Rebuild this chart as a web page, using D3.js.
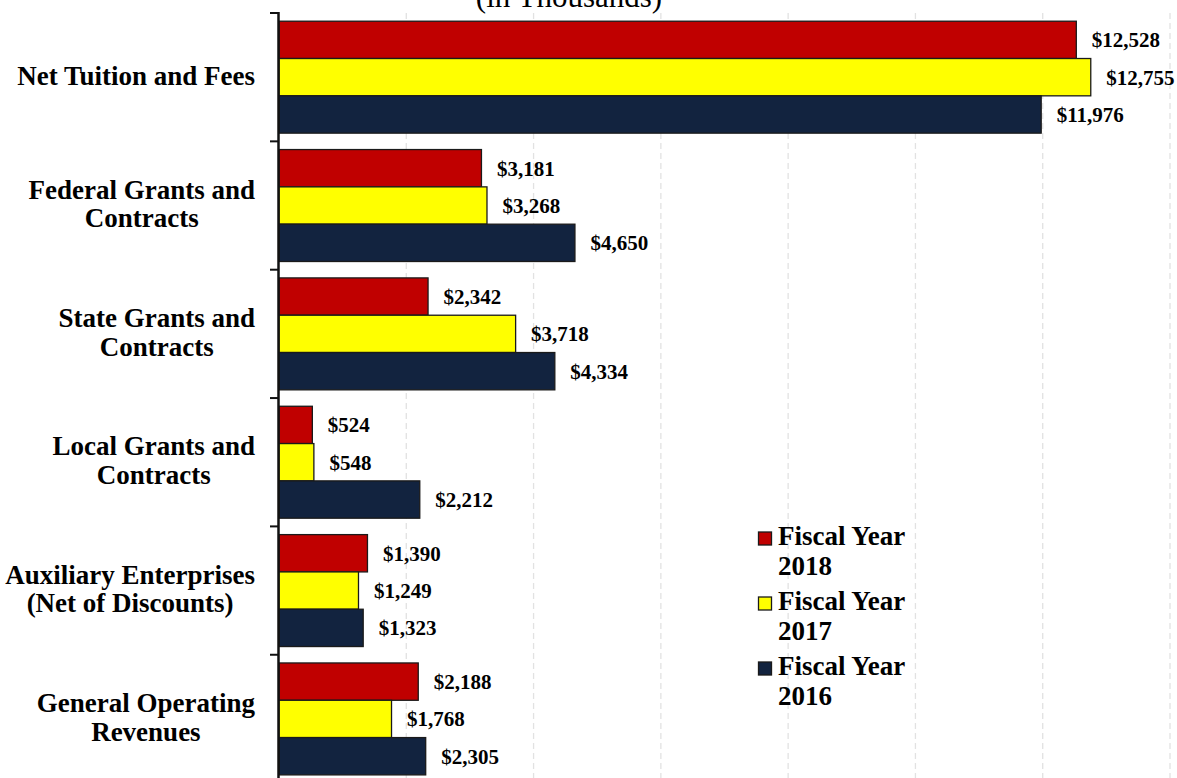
<!DOCTYPE html>
<html>
<head>
<meta charset="utf-8">
<script src="https://cdn.jsdelivr.net/npm/d3@7"></script>
<style>
  html, body { margin: 0; padding: 0; background: #fff; }
  svg { display: block; }
</style>
</head>
<body>
<svg id="chart" width="1177" height="778"></svg>
<script>
const categories = [
  ["Net Tuition and Fees"],
  ["Federal Grants and", "Contracts"],
  ["State Grants and", "Contracts"],
  ["Local Grants and", "Contracts"],
  ["Auxiliary Enterprises", "(Net of Discounts)"],
  ["General Operating", "Revenues"]
];
const seriesNames = [["Fiscal Year", "2018"], ["Fiscal Year", "2017"], ["Fiscal Year", "2016"]];
const fy2018 = [12528, 3181, 2342, 524, 1390, 2188];
const fy2017 = [12755, 3268, 3718, 548, 1249, 1768];
const fy2016 = [11976, 4650, 4334, 2212, 1323, 2305];
const seriesValues = [fy2018, fy2017, fy2016];
const seriesColors = ["#C00000", "#FFFF00", "#12233F"];
const xTicks = [0, 2000, 4000, 6000, 8000, 10000, 12000, 14000];
const titleText = "(in Thousands)";

const svg = d3.select("#chart");
const serif = "'Liberation Serif', 'Times New Roman', serif";

const plotLeft = 279, plotRight = 1170, plotTop = 13, bandH = 128.35;
const catKeys = categories.map((c, i) => i);
const x = d3.scaleLinear().domain([0, 14000]).range([plotLeft, plotRight]);
const y0 = d3.scaleBand().domain(catKeys).range([plotTop, plotTop + bandH * categories.length]);
const y1 = d3.scaleBand().domain([0, 1, 2]).range([0, y0.bandwidth()]).paddingInner(0).paddingOuter(0.22);

// Title (partially cut off at top, as in the original)
svg.append("text")
  .attr("x", 569).attr("y", 7)
  .attr("text-anchor", "middle")
  .attr("font-family", serif).attr("font-size", 31)
  .attr("fill", "#000")
  .text(titleText);

// gridlines
svg.append("g").selectAll("line")
  .data(xTicks.filter(t => t > 0))
  .join("line")
  .attr("x1", d => x(d)).attr("x2", d => x(d))
  .attr("y1", plotTop).attr("y2", 778)
  .attr("stroke", "#e2e2e2").attr("stroke-width", 1.3)
  .attr("stroke-dasharray", "6,4");

// bars
const groups = svg.append("g").selectAll("g")
  .data(catKeys)
  .join("g")
  .attr("transform", d => `translate(0,${y0(d)})`);

groups.selectAll("rect")
  .data(ci => seriesValues.map((vals, si) => ({ si, v: vals[ci] })))
  .join("rect")
  .attr("x", x(0))
  .attr("y", d => y1(d.si))
  .attr("width", d => x(d.v) - x(0))
  .attr("height", y1.bandwidth())
  .attr("fill", d => seriesColors[d.si])
  .attr("stroke", "#1a1a1a").attr("stroke-width", 1.3);

groups.selectAll("text")
  .data(ci => seriesValues.map((vals, si) => ({ si, v: vals[ci] })))
  .join("text")
  .attr("x", d => x(d.v) + 15.5)
  .attr("y", d => y1(d.si) + y1.bandwidth() / 2 + 7.5)
  .attr("font-family", serif).attr("font-size", 21).attr("font-weight", "bold")
  .attr("fill", "#000")
  .text(d => "$" + d3.format(",")(d.v));

// axis
const yAxis = d3.axisLeft(y0).tickSize(0).tickFormat("");
const axisG = svg.append("g").attr("transform", `translate(${plotLeft},0)`).call(yAxis);
axisG.select(".domain").remove();
svg.append("line")
  .attr("x1", plotLeft - 0.5).attr("x2", plotLeft - 0.5)
  .attr("y1", plotTop - 1).attr("y2", 778)
  .attr("stroke", "#111").attr("stroke-width", 2.5);
const boundaries = catKeys.map(k => y0(k));
svg.append("g").selectAll("line")
  .data(boundaries)
  .join("line")
  .attr("x1", plotLeft - 9).attr("x2", plotLeft)
  .attr("y1", d => d).attr("y2", d => d)
  .attr("stroke", "#111").attr("stroke-width", 2);

// category labels
const labelRight = 255;
const catG = svg.append("g");
categories.forEach((lines, i) => {
  const c = y0(i) + y0.bandwidth() / 2;
  const t = catG.append("text")
    .attr("font-family", serif).attr("font-size", 27).attr("font-weight", "bold")
    .attr("fill", "#000").attr("text-anchor", "middle");
  const first = c + 7.5 - (lines.length - 1) * 28.5 / 2;
  lines.forEach((ln, j) => {
    t.append("tspan").attr("y", first + j * 28.5).text(ln);
  });
  let maxW = 0;
  t.selectAll("tspan").each(function () { maxW = Math.max(maxW, this.getComputedTextLength()); });
  t.selectAll("tspan").attr("x", labelRight - maxW / 2);
});

// legend
const legend = svg.append("g");
const legendTop = 545, legendStep = 65;
seriesNames.forEach((lines, i) => {
  const by = legendTop + i * legendStep;
  legend.append("rect")
    .attr("x", 758.5).attr("y", by - 13)
    .attr("width", 13).attr("height", 13)
    .attr("fill", seriesColors[i])
    .attr("stroke", "#1a1a1a").attr("stroke-width", 1.3);
  const t = legend.append("text")
    .attr("font-family", serif).attr("font-size", 27).attr("font-weight", "bold")
    .attr("fill", "#000");
  lines.forEach((ln, j) => {
    t.append("tspan").attr("x", 778).attr("y", by + j * 30).text(ln);
  });
});
</script>
</body>
</html>
